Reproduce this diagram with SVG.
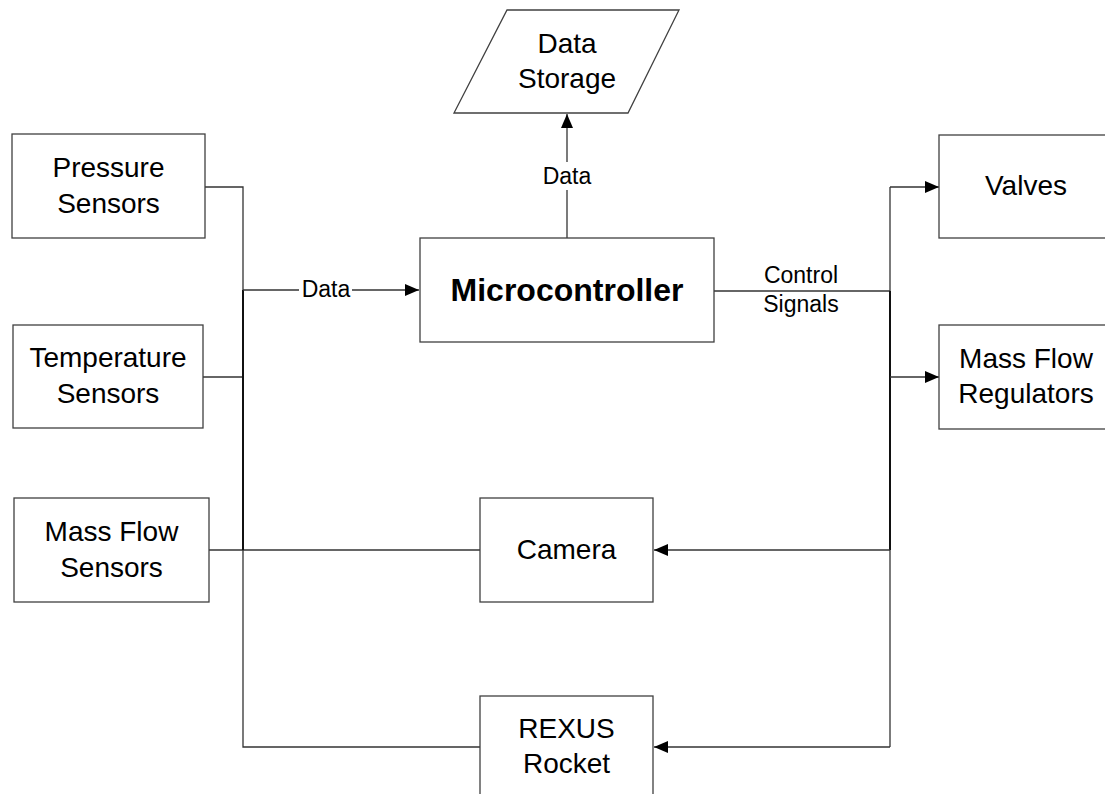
<svg xmlns="http://www.w3.org/2000/svg" width="1105" height="794" viewBox="0 0 1105 794">
<style>
.box{fill:#fff;stroke:#404040;stroke-width:1.3}
.t{font-family:"Liberation Sans",Arial,sans-serif;font-size:28px;fill:#000;text-anchor:middle}
.b{font-family:"Liberation Sans",Arial,sans-serif;font-size:32px;font-weight:bold;fill:#000;text-anchor:middle}
.l{font-family:"Liberation Sans",Arial,sans-serif;font-size:23px;fill:#000;text-anchor:middle}
.c{fill:none;stroke:#333;stroke-width:1.3}
.ct{fill:none;stroke:#111;stroke-width:2}
</style>
<defs>
<marker id="ah" markerUnits="userSpaceOnUse" markerWidth="14" markerHeight="12" refX="14" refY="6" orient="auto">
<path d="M0,0 L14,6 L0,12 z" fill="#000"/>
</marker>
</defs>
<rect width="1105" height="794" fill="#fff"/>
<g id="connectors">
<path class="c" d="M205,187 H243 V290"/>
<path class="c" d="M203,377 H243"/>
<path class="c" d="M209,550 H480"/>
<path class="ct" d="M243,290 V550"/>
<path class="c" d="M243,550 V747 H480"/>
<path class="c" d="M243,290 H419" marker-end="url(#ah)"/>
<path class="c" d="M567,238 V114" marker-end="url(#ah)"/>
<path class="c" d="M714,291 H890"/>
<path class="c" d="M890,187 V291"/>
<path class="ct" d="M890,291 V550"/>
<path class="c" d="M890,550 V747"/>
<path class="c" d="M890,187 H939" marker-end="url(#ah)"/>
<path class="c" d="M890,377 H939" marker-end="url(#ah)"/>
<path class="c" d="M890,550 H654" marker-end="url(#ah)"/>
<path class="c" d="M890,747 H654" marker-end="url(#ah)"/>
<rect x="299" y="278" width="53" height="24" fill="#fff"/>
<text class="l" x="326" y="297">Data</text>
<rect x="541" y="162" width="52" height="28" fill="#fff"/>
<text class="l" x="567" y="184">Data</text>
<text class="l" x="801" y="283">Control</text>
<text class="l" x="801" y="312">Signals</text>
</g>
<g id="data-storage">
<polygon class="box" points="507,10 679,10 628,113 454,113"/>
<text class="t" x="567" y="53">Data</text>
<text class="t" x="567" y="88">Storage</text>
</g>
<g id="pressure-sensors">
<rect class="box" x="12" y="134" width="193" height="104"/>
<text class="t" x="108.5" y="177">Pressure</text>
<text class="t" x="108.5" y="213">Sensors</text>
</g>
<g id="temperature-sensors">
<rect class="box" x="13" y="325" width="190" height="103"/>
<text class="t" x="108" y="367">Temperature</text>
<text class="t" x="108" y="403">Sensors</text>
</g>
<g id="mass-flow-sensors">
<rect class="box" x="14" y="498" width="195" height="104"/>
<text class="t" x="111.5" y="541">Mass Flow</text>
<text class="t" x="111.5" y="577">Sensors</text>
</g>
<g id="microcontroller">
<rect class="box" x="420" y="238" width="294" height="104"/>
<text class="b" x="567" y="301">Microcontroller</text>
</g>
<g id="camera">
<rect class="box" x="480" y="498" width="173" height="104"/>
<text class="t" x="566.5" y="559">Camera</text>
</g>
<g id="rexus-rocket">
<rect class="box" x="480" y="696" width="173" height="110"/>
<text class="t" x="566.5" y="738">REXUS</text>
<text class="t" x="566.5" y="773">Rocket</text>
</g>
<g id="valves">
<rect class="box" x="939" y="135" width="200" height="103"/>
<text class="t" x="1026" y="195">Valves</text>
</g>
<g id="mass-flow-regulators">
<rect class="box" x="939" y="325" width="200" height="104"/>
<text class="t" x="1026" y="368">Mass Flow</text>
<text class="t" x="1026" y="403">Regulators</text>
</g>
</svg>
